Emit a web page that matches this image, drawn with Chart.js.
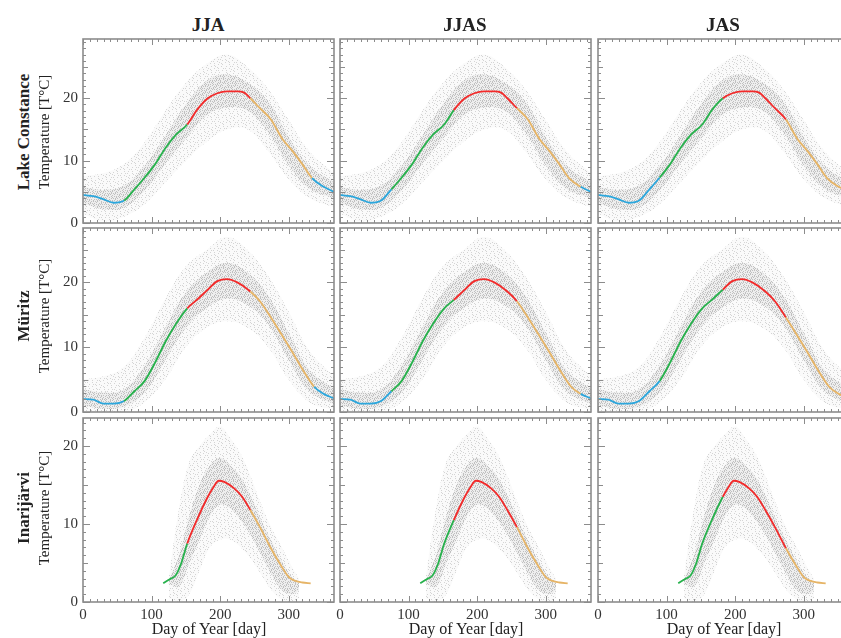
<!DOCTYPE html>
<html>
<head>
<meta charset="utf-8">
<script src="https://cdn.jsdelivr.net/npm/chart.js@4.4.0/dist/chart.umd.min.js"></script>
<style>
  body { margin: 0; width: 841px; height: 638px; overflow: hidden; background: #fff; position: relative; font-family: "Liberation Serif", serif; color: #222; }
  canvas { position: absolute; }
  .lbl { position: absolute; white-space: nowrap; transform: translate(-50%, -50%); }
  .rot { transform: translate(-50%, -50%) rotate(-90deg); }
  .col { font-weight: bold; font-size: 19px; }
  .lake { font-weight: bold; font-size: 17px; }
  .unit { font-size: 15px; }
  .xt { font-size: 16px; }
</style>
</head>
<body>
<script>
/* data */
const seasons = ['JJA', 'JJAS', 'JAS'];
const lakes = ['Lake Constance', 'Müritz', 'Inarijärvi'];
// day where winter->spring, spring->summer, summer->autumn, autumn->winter
const seasonBreaks = [[60, 152, 244, 334], [75, 166, 258, 351], [90, 182, 274, 367]];
const xTicks = [0, 100, 200, 300];
const yTicks = [0, 10, 20];

const constanceDays = [0, 15, 30, 45, 60, 75, 90, 105, 120, 135, 152, 166, 182, 196, 210, 225, 235, 244, 258, 274, 290, 305, 320, 334, 351, 366];
const constanceTemp = [4.5, 4.3, 3.8, 3.25, 3.6, 5.4, 7.3, 9.4, 12.0, 14.1, 15.8, 18.1, 20.0, 20.8, 21.1, 21.1, 20.9, 20.0, 18.4, 16.6, 13.6, 11.6, 9.4, 7.2, 5.8, 5.0];
const muritzDays = [0, 15, 30, 45, 60, 75, 90, 105, 120, 135, 152, 166, 182, 196, 210, 225, 244, 258, 274, 290, 305, 320, 337, 351, 366];
const muritzTemp = [2.0, 1.9, 1.3, 1.3, 1.7, 3.2, 4.8, 7.6, 10.8, 13.5, 16.0, 17.3, 18.9, 20.2, 20.5, 20.0, 18.6, 17.1, 14.6, 11.9, 9.3, 6.6, 3.9, 2.8, 2.1];
const inariDays = [117, 126, 135, 143, 152, 166, 182, 190, 198, 206, 220, 232, 244, 258, 274, 290, 300, 310, 320, 332];
const inariTemp = [2.4, 2.9, 3.4, 4.9, 7.5, 10.5, 13.5, 14.7, 15.55, 15.4, 14.6, 13.5, 11.8, 9.6, 6.9, 4.5, 3.2, 2.7, 2.5, 2.4];

// spread of the daily observations (outer = sparse points, core = dense cloud)
const envDays = [0, 30, 60, 90, 120, 150, 180, 210, 240, 270, 300, 330, 366];
const constanceOuterHigh = [7.5, 8, 9.5, 13, 18, 22.5, 25.5, 27, 25, 21.5, 16.5, 11.5, 8];
const constanceOuterLow = [1.5, 0.3, 1, 3, 6.5, 10, 13, 15, 15, 11.5, 7, 4, 2.5];
const constanceCoreHigh = [5.8, 5.3, 6, 9.2, 14, 19, 22.8, 23.8, 22.5, 19.5, 13.8, 9.2, 6.5];
const constanceCoreLow = [3.2, 2.2, 2.5, 5.2, 9.5, 13.5, 17.2, 18.5, 18, 14.5, 9.2, 5.5, 4];
const muritzOuterHigh = [5, 5.5, 7, 11.5, 17.5, 22.5, 25, 27, 25, 21, 15.5, 9.5, 5.5];
const muritzOuterLow = [0, 0, 0, 1.5, 5, 10, 13, 14, 13, 10, 5, 1.5, 0.3];
const muritzCoreHigh = [3.5, 3, 3.5, 7.2, 13, 18.5, 21.5, 23, 21.5, 18, 12.2, 6.5, 3.6];
const muritzCoreLow = [1, 0.5, 0.8, 3, 8, 13, 16, 17.5, 16.5, 13.5, 8, 3.2, 1.2];
const inariEnvDays = [125, 140, 155, 170, 185, 200, 215, 230, 245, 260, 275, 290, 305, 315];
const inariOuterHigh = [3, 12, 18, 20, 21.5, 22.5, 21, 19, 16, 12.5, 9.5, 7, 4.5, 3];
const inariOuterLow = [0.5, 0, 1, 4, 7, 8, 8, 7, 5.5, 3.5, 1.5, 0.3, 0, 0.5];
const inariCoreHigh = [2.8, 6, 11, 15, 17.5, 18.5, 17.5, 16, 13.5, 10.5, 7.8, 5.2, 3.2, 2.5];
const inariCoreLow = [2.3, 2, 5, 8, 11, 12.5, 12, 10.5, 8.5, 6, 3.5, 1.5, 1, 1.5];

const lakeData = [
  {days: constanceDays, temp: constanceTemp, env: envDays, oh: constanceOuterHigh, ol: constanceOuterLow, ch: constanceCoreHigh, cl: constanceCoreLow},
  {days: muritzDays, temp: muritzTemp, env: envDays, oh: muritzOuterHigh, ol: muritzOuterLow, ch: muritzCoreHigh, cl: muritzCoreLow},
  {days: inariDays, temp: inariTemp, env: inariEnvDays, oh: inariOuterHigh, ol: inariOuterLow, ch: inariCoreHigh, cl: inariCoreLow}
];

/* layout */
const colLeft = [83, 340, 598];
const rowTop = [39, 228, 418];
const plotW = 251, plotH = 184;
const yMax = [29.5, 28.4, 23.6];
const padL = 40, padR = 2, padT = 2, padB = 24;
const seasonColors = ['#2ba6dc', '#27b14c', '#f22a2a', '#e6b466'];

const pts = (xs, ys) => xs.map((d, i) => ({x: d, y: ys[i]}));

function seasonColor(day, breaks) {
  if (day < breaks[0]) return seasonColors[0];
  if (day < breaks[1]) return seasonColors[1];
  if (day < breaks[2]) return seasonColors[2];
  if (day < breaks[3]) return seasonColors[3];
  return seasonColors[0];
}

// speckle texture (style only) so the spread bands read like a point cloud;
// dots placed on an even low-discrepancy sequence
function speckle(bg, dot, count) {
  const W = 53, H = 47;
  const t = document.createElement('canvas');
  t.width = W; t.height = H;
  const g = t.getContext('2d');
  g.fillStyle = bg; g.fillRect(0, 0, W, H);
  g.fillStyle = dot;
  for (let i = 1; i <= count; i++) {
    const u = (i * 0.7548776662) % 1, v = (i * 0.5698402910) % 1;
    g.fillRect(Math.floor(u * W), Math.floor(v * H), 1, 1);
  }
  return g.createPattern(t, 'repeat');
}
const outerFill = speckle('#fafafa', '#d4d4d4', 330);
const coreFill = speckle('#eeeeee', '#c0c0c0', 800);

// keep the plot box fixed: no extra room for half tick labels
function fixBox(s, key, size) {
  s[key] = size;
  s.paddingTop = 0; s.paddingBottom = 0; s.paddingLeft = 0; s.paddingRight = 0;
}

const frameTicks = {
  id: 'frameTicks',
  afterDraw(chart) {
    const {ctx, chartArea: a, scales: {x, y}} = chart;
    ctx.save();
    ctx.strokeStyle = '#8c8c8c';
    ctx.lineWidth = 1;
    ctx.beginPath();
    for (let d = 0; d <= x.max; d += 10) {
      const px = Math.round(x.getPixelForValue(d)) + 0.5;
      const len = d % 100 === 0 ? 6 : 3;
      ctx.moveTo(px, a.top); ctx.lineTo(px, a.top + len);
      ctx.moveTo(px, a.bottom); ctx.lineTo(px, a.bottom - len);
    }
    for (let t = 0; t <= y.max; t += 1) {
      const py = Math.round(y.getPixelForValue(t)) + 0.5;
      const len = t % 10 === 0 ? 7 : (t % 5 === 0 ? 5 : 3);
      ctx.moveTo(a.left, py); ctx.lineTo(a.left + len, py);
      ctx.moveTo(a.right, py); ctx.lineTo(a.right - len, py);
    }
    ctx.stroke();
    ctx.lineWidth = 1.6;
    ctx.strokeRect(a.left, a.top, a.width, a.height);
    ctx.restore();
  }
};

function makePanel(r, c) {
  const cv = document.createElement('canvas');
  cv.width = plotW + padL + padR;
  cv.height = plotH + padT + padB;
  cv.style.left = (colLeft[c] - padL) + 'px';
  cv.style.top = (rowTop[r] - padT) + 'px';
  document.body.appendChild(cv);

  const L = lakeData[r];
  const breaks = seasonBreaks[c];
  const band = {pointRadius: 0, borderWidth: 0, tension: 0.4};

  new Chart(cv.getContext('2d'), {
    type: 'line',
    data: {
      datasets: [
        {label: 'curve', data: pts(L.days, L.temp), order: 0, borderWidth: 1.8, pointRadius: 0,
         cubicInterpolationMode: 'monotone', fill: false,
         segment: {borderColor: s => seasonColor((s.p0.parsed.x + s.p1.parsed.x) / 2, breaks)}},
        {label: 'outer low', data: pts(L.env, L.ol), order: 4, fill: false, ...band},
        {label: 'outer high', data: pts(L.env, L.oh), order: 3, fill: '-1', backgroundColor: outerFill, ...band},
        {label: 'core low', data: pts(L.env, L.cl), order: 2, fill: false, ...band},
        {label: 'core high', data: pts(L.env, L.ch), order: 1, fill: '-1', backgroundColor: coreFill, ...band}
      ]
    },
    options: {
      responsive: false,
      animation: false,
      events: [],
      layout: {padding: {top: padT, right: padR, left: 0, bottom: 0}},
      plugins: {legend: {display: false}, tooltip: {enabled: false}},
      scales: {
        x: {
          type: 'linear', min: 0, max: 366,
          grid: {display: false, drawTicks: false}, border: {display: false},
          afterBuildTicks: s => { s.ticks = xTicks.map(v => ({value: v})); },
          afterFit: s => fixBox(s, 'height', padB),
          ticks: {display: r === 2, padding: 4, color: '#333', font: {family: 'Liberation Serif', size: 15}}
        },
        y: {
          type: 'linear', min: 0, max: yMax[r],
          grid: {display: false, drawTicks: false}, border: {display: false},
          afterBuildTicks: s => { s.ticks = yTicks.map(v => ({value: v})); },
          afterFit: s => fixBox(s, 'width', padL),
          ticks: {display: c === 0, padding: 5, color: '#333', font: {family: 'Liberation Serif', size: 15}}
        }
      }
    },
    plugins: [frameTicks]
  });
}

function addLabel(text, cls, x, y) {
  const d = document.createElement('div');
  d.className = 'lbl ' + cls;
  d.textContent = text;
  d.style.left = x + 'px';
  d.style.top = y + 'px';
  document.body.appendChild(d);
}

for (let r = 0; r < 3; r++) for (let c = 0; c < 3; c++) makePanel(r, c);

seasons.forEach((s, c) => {
  addLabel(s, 'col', colLeft[c] + 125, 25);
  addLabel('Day of Year [day]', 'xt', colLeft[c] + 126, 629);
});
const rowMid = [132, 316, 508];
lakes.forEach((n, r) => {
  addLabel(n, 'rot lake', 24, rowMid[r]);
  addLabel('Temperature [T°C]', 'rot unit', 44, rowMid[r]);
});
</script>
</body>
</html>
